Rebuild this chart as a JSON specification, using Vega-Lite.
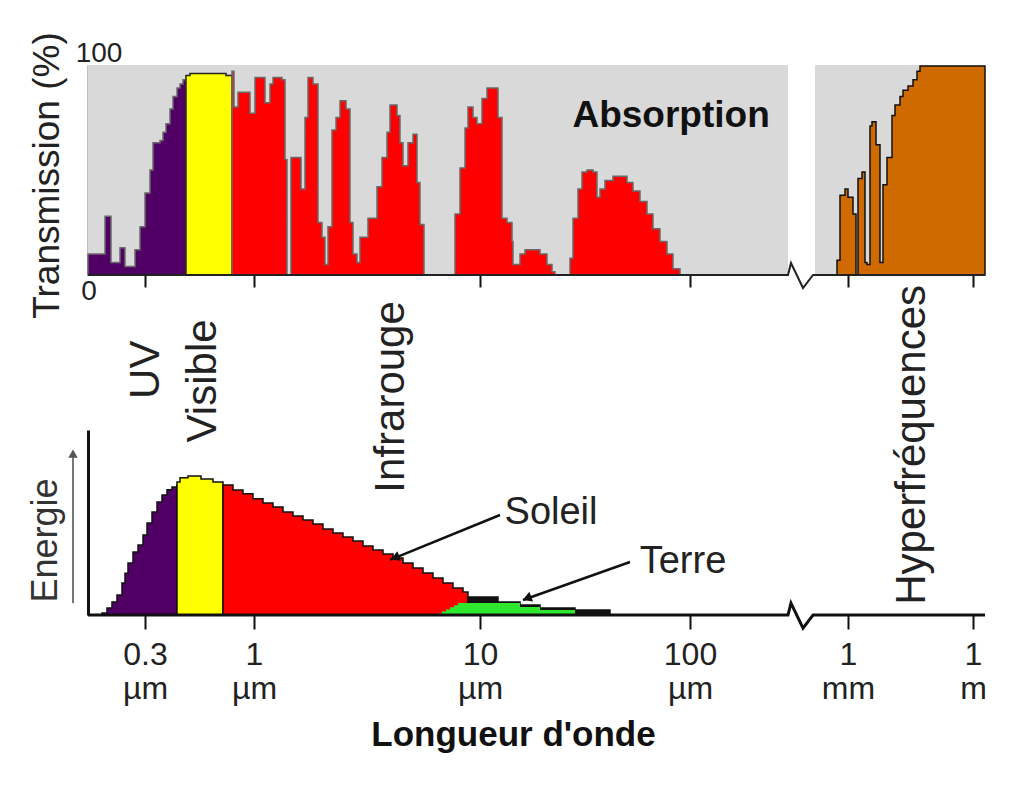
{
  "$schema": "https://vega.github.io/schema/vega-lite/v6.json",
  "background": "white",
  "padding": {"left": 27, "top": 31, "right": 5, "bottom": 5},
  "bounds": "flush",
  "spacing": 155,
  "resolve": {"scale": {"color": "independent", "stroke": "independent"}},
  "config": {"view": {"stroke": null}, "font": "Liberation Sans", "axis": {"grid": false}},
  "datasets": {
    "trans": [
      {"band": "uv", "lg": -0.8, "t": 10}, {"band": "uv", "lg": -0.7174, "t": 28}, {"band": "uv", "lg": -0.6882, "t": 6}, {"band": "uv", "lg": -0.6445, "t": 13}, {"band": "uv", "lg": -0.6202, "t": 4}, {"band": "uv", "lg": -0.5716, "t": 12}, {"band": "uv", "lg": -0.5473, "t": 23}, {"band": "uv", "lg": -0.523, "t": 39}, {"band": "uv", "lg": -0.499, "t": 50}, {"band": "uv", "lg": -0.4846, "t": 63}, {"band": "uv", "lg": -0.451, "t": 64}, {"band": "uv", "lg": -0.4366, "t": 68}, {"band": "uv", "lg": -0.4222, "t": 72}, {"band": "uv", "lg": -0.403, "t": 79}, {"band": "uv", "lg": -0.3886, "t": 85}, {"band": "uv", "lg": -0.3694, "t": 89}, {"band": "uv", "lg": -0.355, "t": 91}, {"band": "uv", "lg": -0.3406, "t": 93}, {"band": "uv", "lg": -0.3263, "t": 93},
      {"band": "vis", "lg": -0.3263, "t": 95}, {"band": "vis", "lg": -0.3071, "t": 96}, {"band": "vis", "lg": -0.1344, "t": 95}, {"band": "vis", "lg": -0.1056, "t": 95},
      {"band": "ir", "lg": -0.1056, "t": 97}, {"band": "ir", "lg": -0.096, "t": 80}, {"band": "ir", "lg": -0.0768, "t": 87}, {"band": "ir", "lg": -0.0192, "t": 77}, {"band": "ir", "lg": 0.0044, "t": 94}, {"band": "ir", "lg": 0.0487, "t": 82}, {"band": "ir", "lg": 0.0708, "t": 91}, {"band": "ir", "lg": 0.0841, "t": 94}, {"band": "ir", "lg": 0.1239, "t": 93}, {"band": "ir", "lg": 0.1372, "t": 55}, {"band": "ir", "lg": 0.146, "t": 0}, {"band": "ir", "lg": 0.1637, "t": 56}, {"band": "ir", "lg": 0.208, "t": 41}, {"band": "ir", "lg": 0.2257, "t": 75}, {"band": "ir", "lg": 0.239, "t": 94}, {"band": "ir", "lg": 0.2611, "t": 91}, {"band": "ir", "lg": 0.2832, "t": 25}, {"band": "ir", "lg": 0.3009, "t": 18}, {"band": "ir", "lg": 0.3142, "t": 5}, {"band": "ir", "lg": 0.3275, "t": 23}, {"band": "ir", "lg": 0.3452, "t": 69}, {"band": "ir", "lg": 0.3629, "t": 75}, {"band": "ir", "lg": 0.3806, "t": 83}, {"band": "ir", "lg": 0.4071, "t": 79}, {"band": "ir", "lg": 0.4248, "t": 25}, {"band": "ir", "lg": 0.4381, "t": 10}, {"band": "ir", "lg": 0.4558, "t": 6}, {"band": "ir", "lg": 0.469, "t": 18}, {"band": "ir", "lg": 0.5044, "t": 27}, {"band": "ir", "lg": 0.5443, "t": 42}, {"band": "ir", "lg": 0.5664, "t": 56}, {"band": "ir", "lg": 0.5885, "t": 68}, {"band": "ir", "lg": 0.6018, "t": 81}, {"band": "ir", "lg": 0.6328, "t": 76}, {"band": "ir", "lg": 0.646, "t": 63}, {"band": "ir", "lg": 0.6593, "t": 52}, {"band": "ir", "lg": 0.6814, "t": 63}, {"band": "ir", "lg": 0.7036, "t": 67}, {"band": "ir", "lg": 0.7213, "t": 44}, {"band": "ir", "lg": 0.7345, "t": 24}, {"band": "ir", "lg": 0.7522, "t": 0}, {"band": "ir", "lg": 0.8894, "t": 29}, {"band": "ir", "lg": 0.9115, "t": 51}, {"band": "ir", "lg": 0.9337, "t": 70}, {"band": "ir", "lg": 0.9469, "t": 80}, {"band": "ir", "lg": 0.969, "t": 75}, {"band": "ir", "lg": 0.9867, "t": 72}, {"band": "ir", "lg": 1.0095, "t": 84}, {"band": "ir", "lg": 1.0333, "t": 89}, {"band": "ir", "lg": 1.0857, "t": 75}, {"band": "ir", "lg": 1.1048, "t": 27}, {"band": "ir", "lg": 1.1286, "t": 25}, {"band": "ir", "lg": 1.1524, "t": 16}, {"band": "ir", "lg": 1.1571, "t": 5}, {"band": "ir", "lg": 1.1905, "t": 10}, {"band": "ir", "lg": 1.2143, "t": 12}, {"band": "ir", "lg": 1.2857, "t": 10}, {"band": "ir", "lg": 1.319, "t": 5}, {"band": "ir", "lg": 1.3429, "t": 1.5}, {"band": "ir", "lg": 1.3571, "t": 0}, {"band": "ir", "lg": 1.4286, "t": 8}, {"band": "ir", "lg": 1.4429, "t": 27}, {"band": "ir", "lg": 1.4667, "t": 41}, {"band": "ir", "lg": 1.4857, "t": 49}, {"band": "ir", "lg": 1.5095, "t": 50}, {"band": "ir", "lg": 1.5381, "t": 49}, {"band": "ir", "lg": 1.5571, "t": 37}, {"band": "ir", "lg": 1.5714, "t": 41}, {"band": "ir", "lg": 1.5952, "t": 45}, {"band": "ir", "lg": 1.6333, "t": 47}, {"band": "ir", "lg": 1.7, "t": 44}, {"band": "ir", "lg": 1.7286, "t": 40}, {"band": "ir", "lg": 1.7619, "t": 35}, {"band": "ir", "lg": 1.7952, "t": 29}, {"band": "ir", "lg": 1.8238, "t": 22}, {"band": "ir", "lg": 1.8571, "t": 16}, {"band": "ir", "lg": 1.8905, "t": 10}, {"band": "ir", "lg": 1.919, "t": 3}, {"band": "ir", "lg": 1.9524, "t": 0}, {"band": "ir", "lg": 2.47, "t": 0},
      {"band": "mw", "lg": 2.5, "t": 0}, {"band": "mw", "lg": 2.8333, "t": 7}, {"band": "mw", "lg": 2.8788, "t": 38}, {"band": "mw", "lg": 2.9545, "t": 41}, {"band": "mw", "lg": 3.0, "t": 37}, {"band": "mw", "lg": 3.12, "t": 29}, {"band": "mw", "lg": 3.192, "t": 0}, {"band": "mw", "lg": 3.24, "t": 46}, {"band": "mw", "lg": 3.336, "t": 49}, {"band": "mw", "lg": 3.408, "t": 6}, {"band": "mw", "lg": 3.456, "t": 5}, {"band": "mw", "lg": 3.528, "t": 71}, {"band": "mw", "lg": 3.576, "t": 73}, {"band": "mw", "lg": 3.672, "t": 62}, {"band": "mw", "lg": 3.768, "t": 6}, {"band": "mw", "lg": 3.84, "t": 43}, {"band": "mw", "lg": 3.936, "t": 56}, {"band": "mw", "lg": 4.056, "t": 76}, {"band": "mw", "lg": 4.128, "t": 81}, {"band": "mw", "lg": 4.248, "t": 85}, {"band": "mw", "lg": 4.32, "t": 88}, {"band": "mw", "lg": 4.44, "t": 90}, {"band": "mw", "lg": 4.56, "t": 93}, {"band": "mw", "lg": 4.656, "t": 97}, {"band": "mw", "lg": 4.728, "t": 99.5}, {"band": "mw", "lg": 6.288, "t": 99.5}
    ],
    "energy": [
      {"band": "uv", "lg": -0.732, "e": 1.4}, {"band": "uv", "lg": -0.7077, "e": 5}, {"band": "uv", "lg": -0.6834, "e": 9.4}, {"band": "uv", "lg": -0.6591, "e": 14.4}, {"band": "uv", "lg": -0.6348, "e": 23}, {"band": "uv", "lg": -0.6202, "e": 30}, {"band": "uv", "lg": -0.6056, "e": 37.4}, {"band": "uv", "lg": -0.5813, "e": 45.3}, {"band": "uv", "lg": -0.557, "e": 50.4}, {"band": "uv", "lg": -0.5327, "e": 57.6}, {"band": "uv", "lg": -0.5134, "e": 66.2}, {"band": "uv", "lg": -0.4894, "e": 74.1}, {"band": "uv", "lg": -0.4654, "e": 81.3}, {"band": "uv", "lg": -0.4414, "e": 86.3}, {"band": "uv", "lg": -0.4174, "e": 90}, {"band": "uv", "lg": -0.3935, "e": 92}, {"band": "uv", "lg": -0.3695, "e": 94},
      {"band": "vis", "lg": -0.3695, "e": 95.7}, {"band": "vis", "lg": -0.3551, "e": 98.6}, {"band": "vis", "lg": -0.3167, "e": 100}, {"band": "vis", "lg": -0.2543, "e": 97.8}, {"band": "vis", "lg": -0.1967, "e": 95.7}, {"band": "vis", "lg": -0.1488, "e": 95.7},
      {"band": "ir", "lg": -0.1488, "e": 93.5}, {"band": "ir", "lg": -0.1008, "e": 89.9}, {"band": "ir", "lg": -0.0528, "e": 87.1}, {"band": "ir", "lg": -0.0048, "e": 83.5}, {"band": "ir", "lg": 0.0398, "e": 80.6}, {"band": "ir", "lg": 0.0841, "e": 77.7}, {"band": "ir", "lg": 0.1283, "e": 74.1}, {"band": "ir", "lg": 0.1726, "e": 71.2}, {"band": "ir", "lg": 0.2168, "e": 68.3}, {"band": "ir", "lg": 0.2611, "e": 65.5}, {"band": "ir", "lg": 0.3053, "e": 61.9}, {"band": "ir", "lg": 0.3496, "e": 59}, {"band": "ir", "lg": 0.3938, "e": 56.1}, {"band": "ir", "lg": 0.4381, "e": 53.2}, {"band": "ir", "lg": 0.4823, "e": 49.6}, {"band": "ir", "lg": 0.5266, "e": 46.8}, {"band": "ir", "lg": 0.5708, "e": 43.9}, {"band": "ir", "lg": 0.6151, "e": 41}, {"band": "ir", "lg": 0.6593, "e": 37.4}, {"band": "ir", "lg": 0.7036, "e": 33.8}, {"band": "ir", "lg": 0.7478, "e": 30.2}, {"band": "ir", "lg": 0.7921, "e": 26.6}, {"band": "ir", "lg": 0.8363, "e": 23}, {"band": "ir", "lg": 0.8806, "e": 19.4}, {"band": "ir", "lg": 0.9248, "e": 16.5}, {"band": "ir", "lg": 0.9469, "e": 16.5},
      {"band": "tail", "lg": 0.9469, "e": 12.9}, {"band": "tail", "lg": 1.0857, "e": 9.4}, {"band": "tail", "lg": 1.1905, "e": 7.2}, {"band": "tail", "lg": 1.2857, "e": 5}, {"band": "tail", "lg": 1.4524, "e": 3.6}, {"band": "tail", "lg": 1.619, "e": 3.6}
    ],
    "terre": [
      {"lg": 0.8142, "e": 1}, {"lg": 0.8319, "e": 2.5}, {"lg": 0.8496, "e": 4}, {"lg": 0.8673, "e": 5.5}, {"lg": 0.885, "e": 7}, {"lg": 0.9027, "e": 8.6}, {"lg": 1.1905, "e": 5.8}, {"lg": 1.2857, "e": 3.6}, {"lg": 1.4524, "e": 3.6}
    ]
  },
  "vconcat": [
    {
      "width": 897,
      "height": 210,
      "layer": [
        {
          "data": {"values": [{"x0": -0.8, "x1": 2.47, "t0": 0, "t1": 100}, {"x0": 2.5, "x1": 6.288, "t0": 0, "t1": 100}]},
          "mark": {"type": "rect", "color": "#d9d9d9"},
          "encoding": {
            "x": {"field": "x0", "type": "quantitative",
              "scale": {"type": "linear", "domain": [-0.8, -0.523, 0, 1, 2, 2.47, 2.5, 3, 6, 6.288], "range": [0, 57, 166, 392, 602, 700, 727, 760, 885, 897], "nice": false, "zero": false},
              "axis": {"values": [-0.523, 0, 1, 2, 3, 6], "labels": false, "domain": false, "ticks": true, "tickSize": 12, "tickWidth": 2, "tickColor": "#111111", "title": null}},
            "x2": {"field": "x1"},
            "y": {"field": "t0", "type": "quantitative",
              "scale": {"domain": [0, 100], "nice": false},
              "axis": {"title": "Transmission (%)", "labels": false, "ticks": false, "domainColor": "#808080", "domainWidth": 2, "titleFontSize": 37, "titleFontWeight": "normal", "titleColor": "#222222", "titleAngle": 270, "titleBaseline": "middle", "titleAlign": "center", "titleX": -41, "titleY": 110}},
            "y2": {"field": "t1"}
          }
        },
        {
          "data": {"name": "trans"},
          "mark": {"type": "area", "interpolate": "step-after", "strokeWidth": 1.5},
          "encoding": {
            "x": {"field": "lg", "type": "quantitative"},
            "y": {"field": "t", "type": "quantitative", "stack": null},
            "color": {"field": "band", "type": "nominal", "scale": {"domain": ["uv", "vis", "ir", "mw"], "range": ["#500064", "#ffff00", "#ff0000", "#cf6a00"]}, "legend": null},
            "stroke": {"field": "band", "type": "nominal", "scale": {"domain": ["uv", "vis", "ir", "mw"], "range": ["#6a6a6a", "#222222", "#6a6a6a", "#111111"]}, "legend": null}
          }
        },
        {
          "data": {"values": [{"lg": -0.8, "t": 0}, {"lg": 2.47, "t": 0}, {"lg": 2.4733, "t": 5.7}, {"lg": 2.4867, "t": -6.2}, {"lg": 2.4978, "t": 0}, {"lg": 2.5, "t": 0}, {"lg": 6.288, "t": 0}]},
          "mark": {"type": "line", "color": "#222222", "strokeWidth": 2},
          "encoding": {"x": {"field": "lg", "type": "quantitative"}, "y": {"field": "t", "type": "quantitative"}}
        },
        {
          "data": {"values": [{"txt": "Absorption", "lg": 1.91, "t": 75.7}]},
          "mark": {"type": "text", "fontSize": 37, "fontWeight": "bold", "color": "#111111", "align": "center", "baseline": "middle"},
          "encoding": {"x": {"field": "lg", "type": "quantitative"}, "y": {"field": "t", "type": "quantitative"}, "text": {"field": "txt"}}
        },
        {
          "data": {"values": [{"txt": "100", "lg": -0.7465, "t": 105.2}, {"txt": "0", "lg": -0.7951, "t": -8.1}]},
          "mark": {"type": "text", "fontSize": 28, "color": "#222222", "align": "center", "baseline": "middle"},
          "encoding": {"x": {"field": "lg", "type": "quantitative"}, "y": {"field": "t", "type": "quantitative"}, "text": {"field": "txt"}}
        }
      ]
    },
    {
      "width": 897,
      "height": 185,
      "layer": [
        {
          "data": {"name": "energy"},
          "mark": {"type": "area", "interpolate": "step-after", "stroke": "#111111", "strokeWidth": 1.5},
          "encoding": {
            "x": {"field": "lg", "type": "quantitative",
              "scale": {"type": "linear", "domain": [-0.8, -0.523, 0, 1, 2, 2.47, 2.5, 3, 6, 6.288], "range": [0, 57, 166, 392, 602, 700, 727, 760, 885, 897], "nice": false, "zero": false},
              "axis": {"values": [-0.523, 0, 1, 2, 3, 6], "domain": false, "tickSize": 14, "tickWidth": 2, "tickColor": "#111111",
                "labelExpr": "datum.value < -0.5 ? ['0.3','µm'] : datum.value < 0.5 ? ['1','µm'] : datum.value < 1.5 ? ['10','µm'] : datum.value < 2.5 ? ['100','µm'] : datum.value < 4 ? ['1','mm'] : ['1','m']",
                "labelFontSize": 32, "labelLineHeight": 34, "labelPadding": 10, "labelColor": "#222222", "labelOverlap": false, "labelFlush": false, "labelBaseline": "top",
                "title": "Longueur d'onde", "titleFontSize": 35, "titleFontWeight": "bold", "titleColor": "#111111", "titlePadding": 13, "titleX": 425}},
            "y": {"field": "e", "type": "quantitative", "stack": null,
              "scale": {"domain": [0, 133], "nice": false},
              "axis": {"title": "Energie", "labels": false, "ticks": false, "domainColor": "#111111", "domainWidth": 3, "titleFontSize": 36, "titleFontWeight": "normal", "titleColor": "#333333", "titleAngle": 270, "titleBaseline": "middle", "titleAlign": "center", "titleX": -43, "titleY": 110}},
            "color": {"field": "band", "type": "nominal", "scale": {"domain": ["uv", "vis", "ir", "tail"], "range": ["#500064", "#ffff00", "#ff0000", "#111111"]}, "legend": null}
          }
        },
        {
          "data": {"name": "terre"},
          "mark": {"type": "area", "interpolate": "step-after", "color": "#2ee82e"},
          "encoding": {"x": {"field": "lg", "type": "quantitative"}, "y": {"field": "e", "type": "quantitative", "stack": null}}
        },
        {
          "data": {"values": [{"lg": -0.8, "e": 0}, {"lg": 2.47, "e": 0}, {"lg": 2.4733, "e": 8.6}, {"lg": 2.4867, "e": -9.4}, {"lg": 2.4978, "e": 0}, {"lg": 6.288, "e": 0}]},
          "mark": {"type": "line", "color": "#111111", "strokeWidth": 3},
          "encoding": {"x": {"field": "lg", "type": "quantitative"}, "y": {"field": "e", "type": "quantitative"}}
        },
        {
          "data": {"values": [{"id": "soleil", "lg": 1.0952, "e": 71.9}, {"id": "soleil", "lg": 0.6018, "e": 39.6}, {"id": "terre", "lg": 1.7143, "e": 38.1}, {"id": "terre", "lg": 1.2048, "e": 10.8}]},
          "mark": {"type": "line", "color": "#111111", "strokeWidth": 2.5},
          "encoding": {"x": {"field": "lg", "type": "quantitative"}, "y": {"field": "e", "type": "quantitative"}, "detail": {"field": "id"}}
        },
        {
          "data": {"values": [{"id": "soleil", "lg": 0.624, "e": 41.2}, {"id": "terre", "lg": 1.2238, "e": 12}]},
          "mark": {"type": "point", "shape": "triangle-up", "angle": 249, "filled": true, "size": 110, "color": "#111111", "opacity": 1},
          "encoding": {"x": {"field": "lg", "type": "quantitative"}, "y": {"field": "e", "type": "quantitative"}}
        },
        {
          "data": {"values": [{"lg": -0.8729, "e": 8.6}, {"lg": -0.8729, "e": 114}]},
          "mark": {"type": "line", "color": "#777777", "strokeWidth": 2},
          "encoding": {"x": {"field": "lg", "type": "quantitative"}, "y": {"field": "e", "type": "quantitative"}}
        },
        {
          "data": {"values": [{"lg": -0.8729, "e": 116}]},
          "mark": {"type": "point", "shape": "triangle-up", "filled": true, "size": 90, "color": "#555555", "opacity": 1},
          "encoding": {"x": {"field": "lg", "type": "quantitative"}, "y": {"field": "e", "type": "quantitative"}}
        },
        {
          "data": {"values": [{"txt": "Soleil", "lg": 1.3381, "e": 73.4}, {"txt": "Terre", "lg": 1.9667, "e": 38.1}]},
          "mark": {"type": "text", "fontSize": 38, "color": "#222222", "align": "center", "baseline": "middle"},
          "encoding": {"x": {"field": "lg", "type": "quantitative"}, "y": {"field": "e", "type": "quantitative"}, "text": {"field": "txt"}}
        },
        {
          "data": {"values": [{"txt": "UV", "lg": -0.518, "e": 176.3}, {"txt": "Visible", "lg": -0.2447, "e": 168.3}, {"txt": "Infrarouge", "lg": 0.6062, "e": 156.8}, {"txt": "Hyperfréquences", "lg": 4.536, "e": 122.3}]},
          "mark": {"type": "text", "fontSize": 42, "angle": 270, "color": "#222222", "align": "center", "baseline": "middle"},
          "encoding": {"x": {"field": "lg", "type": "quantitative"}, "y": {"field": "e", "type": "quantitative"}, "text": {"field": "txt"}}
        }
      ]
    }
  ]
}
